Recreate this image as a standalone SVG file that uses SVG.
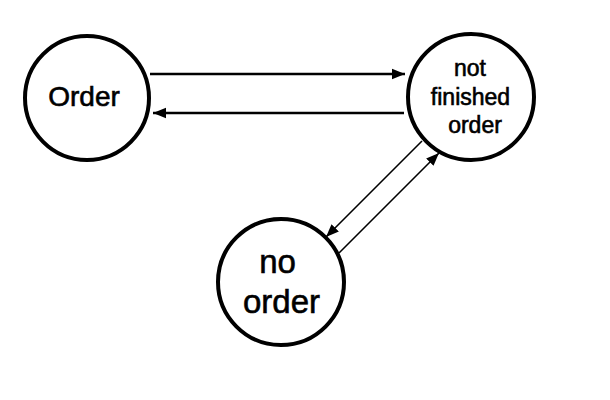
<svg xmlns="http://www.w3.org/2000/svg" width="610" height="400" viewBox="0 0 610 400">
<style>
.node{fill:#fff;stroke:#000;stroke-width:4}
.t{font-family:"Liberation Sans",Arial,sans-serif;fill:#000;stroke:#000;stroke-width:0.6;text-anchor:middle}
.c{stroke:#000;fill:none}
</style>
<defs>
<marker id="ahl" viewBox="0 0 10 10" refX="10" refY="5" markerWidth="13" markerHeight="13" markerUnits="userSpaceOnUse" orient="auto">
<path d="M0,1 L10,5 L0,9 z" fill="#000"/>
</marker>
</defs>
<rect width="610" height="400" fill="#fff"/>
<g id="connectors">
<line class="c" stroke-width="2.5" x1="150" y1="74" x2="405" y2="74" marker-end="url(#ahl)"/>
<line class="c" stroke-width="2.5" x1="404" y1="113" x2="153" y2="113" marker-end="url(#ahl)"/>
<line class="c" stroke-width="1.6" x1="422" y1="141" x2="326" y2="237" marker-end="url(#ahl)"/>
<line class="c" stroke-width="1.6" x1="339" y1="253" x2="439" y2="153" marker-end="url(#ahl)"/>
</g>
<g id="order">
<circle class="node" cx="87" cy="98" r="62"/>
<text class="t" x="84" y="106" font-size="28">Order</text>
</g>
<g id="not-finished-order">
<circle class="node" cx="471" cy="97" r="63"/>
<text class="t" x="470" y="76" font-size="23">not</text>
<text class="t" x="470.5" y="105" font-size="23">finished</text>
<text class="t" x="475" y="133" font-size="23">order</text>
</g>
<g id="no-order">
<circle class="node" cx="281" cy="282" r="63"/>
<text class="t" x="277.5" y="273" font-size="33">no</text>
<text class="t" x="281.5" y="313" font-size="33">order</text>
</g>
</svg>
